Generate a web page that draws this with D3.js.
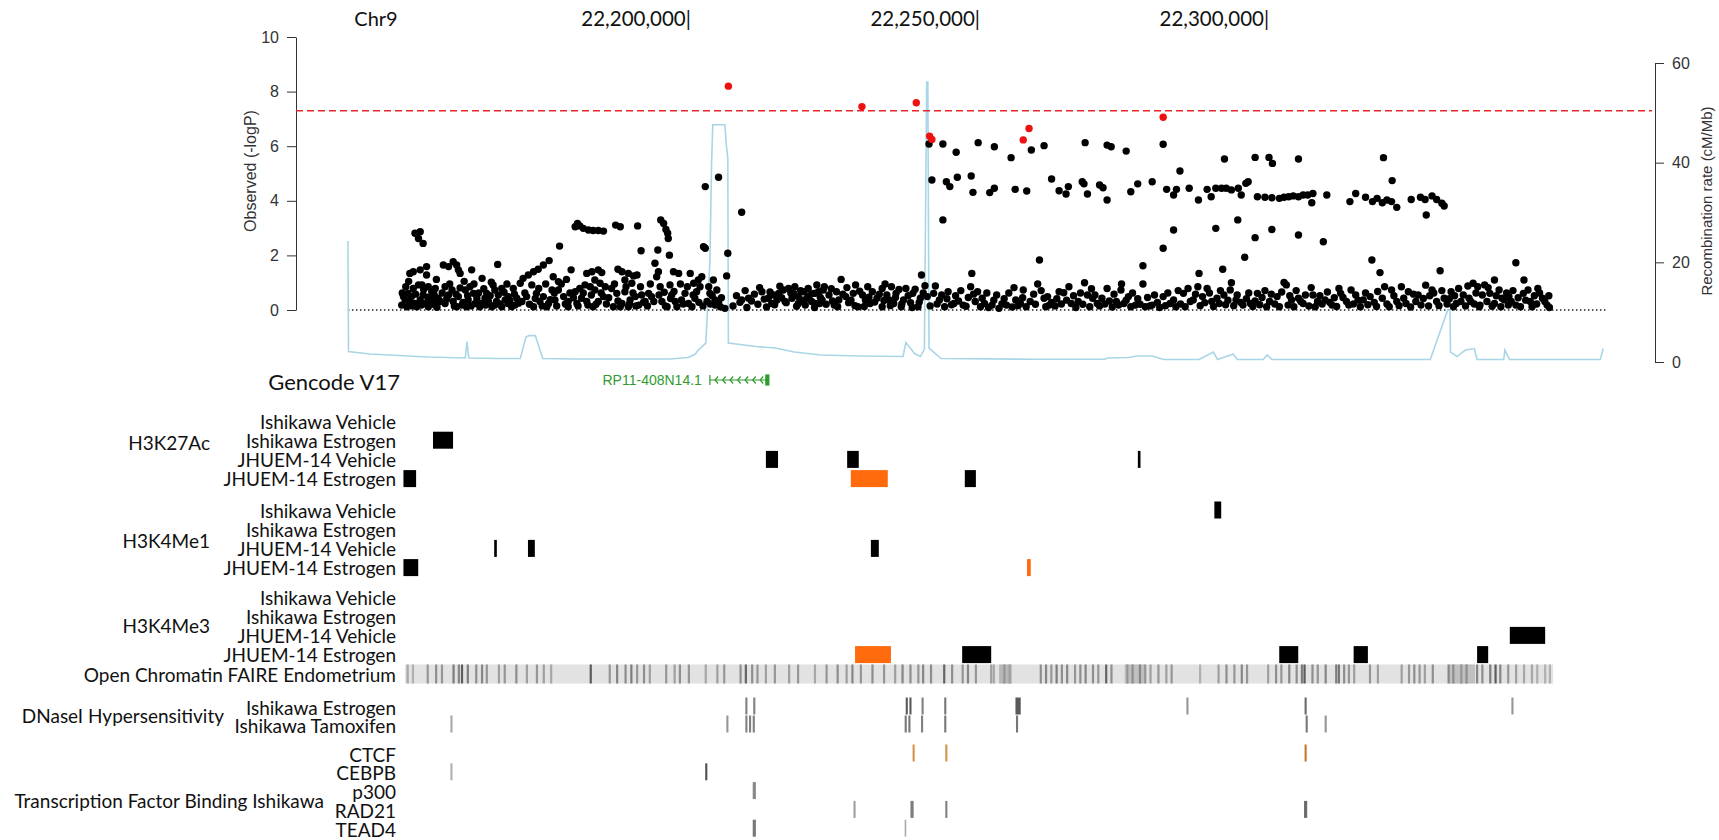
<!DOCTYPE html>
<html>
<head>
<meta charset="utf-8">
<script src="https://cdn.jsdelivr.net/npm/d3@7"></script>
<style>
   body { margin: 0; background: #fff; }
   svg { display: block; }
</style>
</head>
<body>
<div class="chart"></div>
<script>
// all positions are in kb after 22,000,000 bp on chr9
const BASE_BP = 22000000;
const REGION = [141.2, 358.8];
const TOP_TICKS = [200, 250, 300];

// association results: [position kb, -log10 p]
const snpBlack = [
   [152.8,2.81],[153.7,2.87],[153.4,2.62],[154.2,2.44],[151.9,1.34],[152.5,1.40],[153.7,1.47],[154.8,1.59],[154.8,1.28],[151.6,0.61],
   [152.5,0.79],[154.0,0.92],[155.1,0.85],[155.7,0.67],[156.3,0.79],[151.1,0.37],[151.9,0.31],[152.8,0.24],[153.7,0.37],[154.5,0.24],
   [155.4,0.31],[156.3,0.18],[156.8,0.43],[151.4,0.12],[153.1,0.12],[155.1,0.12],[156.6,0.10],[150.5,0.18],[150.8,0.49],[152.2,0.49],
   [154.2,0.55],[156.0,0.37],
   [157.7,1.65],[158.6,1.59],[159.4,1.77],[160.0,1.65],[160.3,1.47],[160.6,1.34],[162.6,1.47],[158.0,0.85],[159.2,0.73],[160.3,0.49],
   [161.5,0.73],[162.3,0.85],[162.9,0.61],[158.0,0.24],[159.4,0.31],[160.9,0.18],[162.0,0.37],[163.2,0.24],[158.6,0.55],[160.0,0.12],
   [161.7,0.12],[163.5,0.43],
   [164.4,1.16],[167.1,1.67],[165.2,0.61],[166.3,0.92],[166.6,0.73],[167.8,0.79],[168.9,0.49],[169.8,0.79],[171.0,0.98],[164.3,0.24],
   [165.5,0.31],[166.6,0.18],[167.8,0.12],[168.9,0.24],[170.1,0.18],[171.3,0.31],[164.9,0.43],[166.1,0.12],[168.4,0.37],[169.5,0.12],
   [167.2,0.55],[170.4,0.43],
   [171.5,1.16],[172.4,1.28],[173.3,1.40],[174.1,1.49],[175.0,1.65],[176.0,1.81],[173.0,0.92],[173.8,0.61],[175.0,0.49],[176.5,0.73],
   [172.1,0.49],[174.4,0.31],[175.9,0.24],[173.3,0.12],[177.8,2.34],[176.7,1.22],[177.6,1.04],[177.0,0.37],[175.6,0.12],
   [180.5,3.05],[180.9,3.17],[181.3,3.08],[181.9,2.99],[182.8,2.93],[183.6,2.91],[184.5,2.91],[185.4,2.89],[179.8,1.47],[182.5,1.34],
   [183.4,1.40],[184.5,1.47],[185.1,1.37],[183.9,1.10],[177.6,0.73],[178.5,0.49],[179.3,0.31],[180.5,0.67],[181.3,0.79],[182.2,0.92],
   [183.1,0.85],[183.9,0.73],[184.8,0.98],[185.7,0.85],[180.8,0.24],[182.5,0.31],[184.5,0.31],[179.3,0.12],[181.6,0.43],[183.6,0.12],
   [185.4,0.49],
   [187.5,3.11],[188.3,3.05],[191.3,3.08],[191.9,2.17],[194.8,2.20],[187.9,1.49],[188.6,1.40],[189.7,1.34],[190.6,1.25],[191.2,1.28],
   [189.1,1.10],[190.3,0.98],[186.8,0.79],[187.7,0.61],[189.1,0.67],[190.0,0.37],[190.9,0.49],[192.0,0.55],[193.2,0.61],[188.6,0.24],
   [191.5,0.18],[187.1,0.12],[189.7,0.12],[192.6,0.31],
   [195.3,3.30],[195.8,3.17],[196.2,2.95],[196.5,2.81],[196.6,2.62],[196.8,2.01],[194.3,1.71],[194.9,1.40],[194.6,1.22],[195.2,0.85],
   [196.9,0.92],[197.5,1.40],[198.4,1.34],[193.7,0.49],[195.5,0.31],[197.2,0.55],[197.8,0.31],[196.4,0.12],
   [200.4,1.34],[201.0,0.98],[201.8,1.10],[202.1,0.85],[202.4,1.22],[203.6,0.85],[204.4,1.10],[205.0,0.73],[203.0,4.52],[205.3,4.86],
   [202.7,2.32],[203.0,2.26],[203.8,0.61],[204.7,0.37],[201.2,0.43],[200.1,0.24],[198.9,0.37],[204.7,0.18],[205.6,0.12],[206.4,0.06],
   [199.5,0.61],[200.7,0.12],[201.5,0.67],[203.3,0.31],
   [150.6,0.62],[151.2,0.85],[151.7,1.05],[152.3,0.15],[152.9,0.58],[153.4,0.92],[153.9,0.18],[154.3,0.75],[155.0,0.47],[155.6,0.22],
   [156.1,0.56],[156.5,1.12],[157.2,0.31],[157.5,0.62],[158.3,0.41],[158.8,0.95],[159.6,0.15],[159.9,0.58],[160.6,0.81],[161.1,0.28],
   [161.3,1.05],[161.9,0.52],[162.5,0.15],[163.0,0.95],[163.8,0.62],[164.0,0.12],[164.7,0.78],[165.0,0.18],[165.8,0.52],[166.0,1.02],
   [166.9,0.31],[167.5,0.22],[168.2,0.65],[168.7,0.95],[169.2,0.35],[170.0,0.58],[170.7,0.25],[171.8,0.62],[172.6,0.21],[173.6,0.42],
   [174.2,0.79],[174.8,0.15],[175.4,0.95],[176.2,0.38],[176.9,0.62],[177.3,0.15],[178.1,0.95],[178.8,0.22],[179.0,1.12],[179.6,0.62],
   [180.2,0.45],[181.0,0.15],[181.9,0.62],[182.7,0.18],[183.3,0.55],[184.1,0.21],[185.0,0.62],[185.9,0.22],[186.3,0.45],[187.3,0.95],
   [187.9,0.33],[188.3,0.12],[189.3,0.85],[189.9,0.22],[190.5,0.62],[191.0,0.15],[191.8,0.85],[192.3,0.28],[193.0,0.15],[193.5,0.95],
   [194.1,0.31],[195.0,0.55],[195.9,0.65],[196.1,0.15],[197.0,0.42],[197.6,0.68],[198.1,0.12],[198.7,0.95],[199.2,0.22],[199.9,0.85],
   [200.9,0.55],[201.9,0.28],[202.6,0.15],[203.9,0.22],[204.2,0.52],[205.3,0.28],[205.8,0.45],
   [206.9,2.08],[206.7,1.25],[209.3,3.58],[209.3,0.37],[210.5,0.43],[212.8,0.67],[213.9,0.43],[214.8,0.55],[215.7,0.61],[216.5,0.73],
   [217.4,0.79],[218.3,0.61],[219.1,0.49],[220.0,0.67],[220.8,0.79],[221.7,0.61],[222.6,0.67],[223.4,0.73],[214.5,0.24],[216.8,0.31],
   [219.1,0.24],[221.4,0.31],[223.2,0.37],[215.4,0.37],[218.0,0.43],[220.6,0.43],[222.0,0.24],[218.5,0.85],[222.3,0.92],
   [207.8,0.15],[208.4,0.52],[209.0,0.28],[209.9,0.71],[210.2,0.09],[211.0,0.33],[211.5,0.58],[212.1,0.21],[212.4,0.82],[213.2,0.40],
   [213.6,0.11],[214.2,0.66],[215.0,0.19],[215.9,0.87],[216.2,0.45],[217.0,0.27],[217.8,0.62],[218.8,0.14],[219.5,0.71],[219.8,0.36],
   [220.3,0.18],[221.0,0.52],[221.9,0.09],[222.9,0.46],[223.9,0.21],[224.8,0.78],[225.0,0.33],[225.9,0.12],[226.8,0.58],[227.5,0.82],
   [228.2,0.36],[228.9,0.16],[229.7,0.69],[230.5,0.13],[231.3,0.47],[232.3,0.29],[233.1,0.58],[233.9,0.35],[234.1,0.95],[235.0,0.16],
   [235.9,0.46],[236.5,0.75],[237.0,0.22],[238.1,0.52],[238.8,0.09],[239.3,0.76],[240.0,0.28],[240.7,0.62],
   [226.5,1.12],[223.6,0.85],[229.0,0.92],[231.1,0.85],[233.6,0.79],[235.2,0.85],[237.7,0.79],[240.4,1.28],[241.0,0.89],[222.0,0.61],
   [224.4,0.55],[225.7,0.67],[227.3,0.49],[228.6,0.61],[230.2,0.55],[231.9,0.67],[232.7,0.43],[234.4,0.55],[236.0,0.61],[237.3,0.37],
   [238.9,0.61],[240.2,0.43],[222.8,0.24],[225.3,0.18],[227.8,0.27],[229.4,0.12],[231.5,0.24],[233.6,0.12],[235.6,0.24],[236.9,0.12],
   [238.5,0.27],[239.8,0.12],[226.1,0.37],[230.7,0.37],[234.8,0.37],
   [241.4,0.49],[242.5,0.61],[243.5,0.37],[245.0,0.67],[246.0,0.24],[247.6,0.18],[249.1,1.34],[248.9,0.85],[250.1,0.67],[249.7,0.31],
   [251.3,0.24],[252.6,0.18],[253.8,0.06],[255.1,0.18],[256.7,0.37],[258.0,0.73],[257.5,0.24],[259.2,0.31],[260.5,0.95],[260.8,1.83],
   [261.6,0.43],[262.5,0.18],
   [241.9,0.15],[242.8,0.88],[243.1,0.22],[243.9,0.55],[244.4,0.12],[244.8,0.41],[245.6,0.19],[246.3,0.52],[246.8,0.33],[247.2,0.71],
   [248.1,0.14],[248.5,0.46],[249.4,0.58],[250.6,0.12],[250.9,0.43],[251.7,0.62],[252.0,0.09],[252.9,0.36],[253.4,0.55],[254.3,0.22],
   [254.7,0.41],[255.5,0.62],[256.1,0.11],[256.4,0.82],[257.1,0.16],[257.9,0.45],[258.5,0.12],[259.8,0.58],[260.1,0.21],[261.1,0.71],
   [261.9,0.12],[262.2,0.49],[262.9,0.28],
   [264.2,0.67],[265.0,0.63],[266.3,0.24],[267.5,0.31],[268.6,1.00],[269.1,0.55],[270.0,0.43],[270.8,0.24],[272.5,0.79],[274.1,0.31],
   [274.9,0.73],[275.4,0.24],[276.2,0.49],[277.4,0.18],[278.7,0.95],[278.7,1.62],[279.1,0.12],[280.3,0.18],[282.2,0.49],[284.0,0.37],
   [282.2,2.26],[284.0,2.93],
   [263.5,0.15],[263.8,0.41],[264.6,0.22],[265.5,0.36],[265.9,0.85],[266.7,0.52],[267.1,0.09],[267.9,0.62],[268.3,0.21],[269.5,0.12],
   [269.8,0.78],[270.4,0.55],[271.2,0.15],[271.6,0.43],[272.1,0.22],[272.9,0.33],[273.4,0.11],[273.7,0.58],[274.5,0.18],[275.0,0.95],
   [275.8,0.36],[276.6,0.12],[276.9,0.62],[277.8,0.41],[278.2,0.21],[279.5,0.46],[279.9,0.15],[280.7,0.55],[281.2,0.28],[281.6,0.09],
   [282.6,0.16],[283.0,0.62],[283.4,0.24],[284.4,0.12],[284.8,0.71],
   [285.7,0.61],[286.5,0.79],[287.4,0.37],[288.2,0.85],[288.4,1.34],[289.0,0.49],[289.8,0.79],[290.6,0.31],[291.9,0.24],[292.5,1.49],
   [292.7,0.55],[294.0,1.00],[293.8,0.73],[294.8,0.37],[296.0,0.18],[296.3,1.93],[297.3,0.24],[298.5,0.61],[299.8,0.71],[300.6,0.31],
   [301.9,0.49],[303.1,1.01],[303.5,0.92],[304.4,0.37],[305.6,0.43],[306.4,0.24],
   [285.2,0.22],[286.0,0.12],[286.9,0.31],[287.8,0.58],[288.6,0.16],[289.4,0.27],[290.2,0.62],[290.9,0.13],[291.5,0.43],[292.1,0.71],
   [293.0,0.19],[293.4,0.36],[294.4,0.16],[295.0,0.55],[295.6,0.28],[296.6,0.41],[297.0,0.62],[297.7,0.13],[298.1,0.33],[298.9,0.19],
   [299.3,0.46],[300.1,0.12],[300.9,0.58],[301.5,0.22],[302.3,0.12],[302.7,0.66],[303.8,0.18],[304.1,0.52],[304.8,0.12],[305.2,0.71],
   [306.0,0.31],[306.8,0.55],
   [308.1,0.55],[308.9,0.31],[310.2,0.37],[311.4,0.18],[312.6,0.79],[312.9,0.61],[313.9,0.31],[315.5,0.55],[316.8,0.37],[318.3,1.83],
   [318.0,0.49],[319.7,1.37],[320.5,0.85],[320.1,0.43],[321.7,0.73],[322.6,0.31],[324.6,0.67],[325.9,0.31],[326.3,0.55],[328.7,0.73],
   [330.1,1.44],[329.5,0.31],[330.8,0.43],
   [307.4,0.15],[307.8,0.82],[308.5,0.12],[309.3,0.52],[309.7,0.22],[310.6,0.66],[311.0,0.28],[311.8,0.45],[312.2,0.13],[313.3,0.46],
   [314.3,0.18],[314.7,0.73],[315.1,0.22],[315.9,0.36],[316.3,0.12],[317.2,0.62],[317.6,0.19],[318.7,0.28],[319.1,0.13],[319.3,0.68],
   [320.9,0.22],[321.3,0.12],[322.1,0.52],[323.0,0.16],[323.4,0.85],[323.8,0.43],[324.2,0.24],[325.0,0.11],[325.5,0.58],[326.8,0.18],
   [327.2,0.42],[327.6,0.91],[328.1,0.15],[328.3,0.52],[329.0,0.62],[329.9,0.16],[330.4,0.71],
   [332.0,0.67],[333.3,0.79],[334.1,0.55],[335.8,0.98],[336.6,0.85],[337.8,0.92],[338.7,0.61],[339.5,1.10],[340.3,0.73],[341.2,0.37],
   [343.2,1.73],[344.6,1.10],[344.5,0.61],[345.7,0.31],[347.0,0.79],[347.8,0.43],[348.6,0.18],[332.9,0.24],[335.4,0.31],[337.0,0.18],
   [339.5,0.24],[342.0,0.49],[343.2,0.18],
   [331.3,0.22],[331.7,0.41],[332.4,0.12],[332.6,0.52],[333.7,0.31],[334.5,0.15],[334.9,0.88],[335.1,0.43],[336.0,0.22],[336.3,0.62],
   [336.9,0.12],[337.4,0.55],[338.2,0.31],[338.4,0.82],[339.1,0.14],[339.8,0.52],[340.6,0.12],[340.8,0.43],[341.6,0.62],[341.9,0.18],
   [342.4,0.31],[342.7,0.71],[343.6,0.45],[344.0,0.12],[344.9,0.36],[345.3,0.73],[346.0,0.12],[346.4,0.52],[346.8,0.22],[347.3,0.62],
   [348.2,0.31],[348.9,0.52],[349.0,0.09],
   [241.7,6.08],[244.1,6.08],[246.4,5.78],[250.2,6.13],[253.0,5.98],[255.9,5.58],[259.4,5.86],[261.6,6.02],[268.7,6.13],[272.5,6.04],
   [273.2,5.98],[275.8,5.82],[282.2,6.07],[292.8,5.53],[298.1,5.59],[300.5,5.59],[301.1,5.37],[305.6,5.53],[320.3,5.58],[285.1,5.09],
   [321.8,4.74],
   [242.2,4.76],[244.7,4.70],[245.3,4.52],[246.6,4.86],[249.0,4.91],[249.3,4.31],[252.2,4.30],[253.0,4.46],[256.6,4.42],[258.6,4.36],
   [262.9,4.80],[264.2,4.37],[265.4,4.25],[265.8,4.52],[268.2,4.70],[268.5,4.62],[269.1,4.25],[271.2,4.58],[271.8,4.48],[272.5,4.03],
   [276.6,4.33],[277.8,4.62],[280.3,4.70],[282.8,4.42],[284.0,4.21],[284.5,4.42],[286.7,4.46],[288.3,4.03],[289.8,4.42],[290.5,4.15],
   [291.3,4.46],[292.3,4.46],[293.1,4.46],[294.0,4.40],[295.2,4.46],[295.7,4.21],[296.5,4.64],[296.9,4.70],[298.5,4.15],[299.8,4.13],
   [301.0,4.11],[302.3,4.09],[303.1,4.13],[303.9,4.15],[304.7,4.18],[305.6,4.15],[306.4,4.21],[307.2,4.21],[308.1,4.27],[307.9,3.93],
   [310.5,4.21],[314.5,3.97],[315.5,4.27],[317.2,4.13],[318.4,3.97],[319.2,4.09],[320.1,3.93],[320.9,4.03],[321.7,3.97],[322.6,3.76],
   [325.1,4.05],[326.7,4.13],[327.5,4.05],[328.7,4.18],[329.5,4.05],[330.4,3.91],[330.8,3.81],[327.7,3.48],
   [244.1,3.30],[291.3,2.99],[295.1,3.30],[298.1,2.65],[301.0,2.95],[305.6,2.75],[309.9,2.50]
];

// genome-wide significant hits
const snpRed = [[207.0,8.2],[230.1,7.45],[239.5,7.59],[241.8,6.37],[242.2,6.25],[258.0,6.23],[259.0,6.65],[282.2,7.06]];
const SIG_LEVEL = 7.3;

// recombination rate (cM/Mb)
const recombRate = [
   [141.2,24.3],[141.3,2.1],[145,1.6],[150,1.3],[155,1.0],[161.5,0.8],[161.8,4.1],[162.1,0.8],[167,0.7],[171.0,0.7],
   [172.0,5.0],[172.5,5.3],[173.6,5.3],[174.9,0.7],[180,0.6],[190,0.6],[197,0.6],[200,0.9],[201.2,1.5],[201.8,2.4],
   [203.1,3.8],[203.8,20],[204.1,40],[204.3,47.6],[206.4,47.6],[206.6,44],[206.9,41],[207.0,3.8],[211.8,3.1],[215.1,2.8],
   [218.4,2.0],[222.9,1.4],[230,1.2],[237.2,1.1],[237.7,3.9],[239.2,1.7],[240.2,1.1],[240.9,2.6],[241.3,56.2],[241.5,56.2],
   [241.7,2.8],[243.8,0.7],[260,0.55],[272.1,0.55],[272.6,0.8],[276.2,0.9],[277.7,1.2],[280.3,1.2],[282.3,0.5],[288.4,0.5],
   [290.9,2.0],[291.6,0.5],[294.3,1.6],[295.0,0.5],[299.5,0.5],[300.2,1.4],[301.0,0.5],[328.4,0.5],[331.4,10.4],[331.8,10.4],
   [331.9,2.0],[333.0,1.1],[334.5,2.4],[336.0,2.7],[336.5,0.5],[341.1,0.5],[341.3,2.4],[342.1,0.5],[357.8,0.5],[358.3,2.7]
];

// gencode gene
const geneNames = ["RP11-408N14.1"];
const geneStarts = [203.8];
const geneEnds = [214.0];

// histone marks: [row, start, end, gained with estrogen]
const histoneGroups = ["H3K27Ac", "H3K4Me1", "H3K4Me3"];
const histoneRows = ["Ishikawa Vehicle", "Ishikawa Estrogen", "JHUEM-14 Vehicle", "JHUEM-14 Estrogen"];
const h3k27acPeaks = [[1,146.5,150.3,0],[2,209.6,211.9,0],[2,225.0,227.2,0],[2,280.1,280.6,0],[3,140.9,143.3,0],[3,225.7,232.7,1],[3,247.3,249.4,0]];
const h3k4me1Peaks = [[0,294.6,295.9,0],[2,158.1,158.6,0],[2,164.5,165.8,0],[2,229.5,231.0,0],[3,140.9,143.7,0],[3,259.1,259.8,1]];
const h3k4me3Peaks = [[2,350.6,357.3,0],[3,226.5,233.3,1],[3,246.8,252.3,0],[3,306.9,310.5,0],[3,321.0,323.7,0],[3,344.4,346.5,0]];

// FAIRE open chromatin signal: [position, score]
const faireSignal = [
   [141.7,350],[142.7,300],[145.5,450],[147.1,500],[148.2,450],[150.4,600],[151.4,550],[152.0,800],[153.1,600],[154.7,500],
   [155.8,550],[156.7,450],[159.0,400],[160.1,450],[162.3,500],[164.3,400],[166.2,450],[167.5,400],[168.9,350],[176.4,800],
   [180.0,450],[181.4,550],[183.0,500],[184.1,600],[185.2,450],[186.5,500],[187.6,400],[190.7,450],[192.3,400],[193.3,500],
   [195.0,450],[198.2,350],[200.4,400],[201.7,450],[204.8,500],[205.8,750],[207.0,500],[208.0,450],[209.6,400],[211.3,450],
   [214.0,400],[215.7,450],[218.9,350],[221.1,450],[223.2,500],[224.9,400],[226.0,550],[227.6,450],[229.8,500],[232.0,450],
   [234.1,400],[235.5,550],[237.0,500],[238.5,450],[239.4,550],[240.9,500],[243.4,750],[244.9,500],[246.9,450],[247.9,550],
   [249.4,450],[252.3,400],[252.8,350],[254.8,450],[255.8,400],[261.7,500],[262.7,550],[263.7,450],[264.7,600],[265.7,500],
   [266.7,550],[268.2,450],[269.2,500],[270.2,550],[271.6,500],[272.6,450],[274.1,750],[275.1,500],[278.1,450],[279.1,500],
   [280.5,550],[281.5,450],[282.5,400],[284.0,450],[285.5,400],[286.5,450],[291.9,300],[295.4,400],[296.9,500],[298.4,450],
   [299.8,550],[300.8,450],[304.8,400],[306.3,500],[307.3,450],[308.8,550],[310.2,500],[311.2,600],[311.7,800],[313.2,500],
   [314.2,450],[315.7,550],[317.7,600],[318.2,650],[319.2,500],[320.1,450],[321.1,400],[324.1,450],[325.6,400],[330.1,400],
   [331.5,450],[332.5,500],[333.5,450],[334.5,400],[336.0,500],[339.0,550],[339.9,500],[341.4,450],[342.4,500],[344.4,550],
   [345.4,500],[346.9,600],[347.9,800],[348.8,550],[350.3,450],[351.8,400],[353.3,350],[354.8,350],[355.8,300],[357.3,300],
   [358.2,300]
];
const faireBroad = [[253.8,256.2,250],[277.6,281.5,200],[339.1,344.0,200]];

// DNaseI hypersensitive sites: [start, end, score]
const dnaseRows = ["Ishikawa Estrogen", "Ishikawa Tamoxifen"];
const dnaseEstrogen = [[205.7,206.1,520],[207.2,207.6,520],[236.1,236.5,700],[236.8,237.2,700],[239.1,239.5,520],[243.4,243.8,560],[256.9,257.9,700],[289.3,289.7,420],[311.7,312.1,620],[350.9,351.3,420]];
const dnaseTamoxifen = [[149.8,150.2,330],[202.1,202.5,420],[205.7,206.1,520],[206.4,206.8,520],[207.1,207.5,520],[235.9,236.3,560],[236.6,237.0,560],[239.0,239.4,520],[243.4,243.8,560],[257.0,257.4,560],[311.9,312.3,560],[315.5,315.9,420]];

// transcription factor binding in Ishikawa: [start, end, score]
const tfNames = ["CTCF", "CEBPB", "p300", "RAD21", "TEAD4"];
const tfCTCF = [[237.4,237.8,600],[243.6,244.0,600],[311.7,312.1,800]];
const tfCEBPB = [[149.8,150.2,300],[198.1,198.5,750]];
const tfP300 = [[207.1,207.7,480]];
const tfRAD21 = [[226.2,226.6,380],[237.0,237.6,540],[243.6,244.0,520],[311.6,312.2,620]];
const tfTEAD4 = [[207.1,207.7,560],[235.9,236.2,330]];

// setup chart
const width = 1719;
const height = 840;
const svg = d3.select(".chart").append("svg").attr("width", width).attr("height", height);

const LABEL_FONT = "Lato, 'Open Sans', sans-serif";
const AXIS_FONT = "'Liberation Sans', Arial, sans-serif";
const TRACK_FONT = 19;

// scales for the association plot and for the browser tracks
const xPlot = d3.scaleLinear().domain([140, 360]).range([341, 1613]);
const yP = d3.scaleLinear().domain([0, 10]).range([310, 37]);
const yR = d3.scaleLinear().domain([0, 60]).range([362, 63]);
const xTrack = d3.scaleLinear().domain([140, 360]).range([398.7, 1559.4]);

const label = (x, y, txt, size, anchor) =>
   svg
      .append("text")
      .attr("x", x)
      .attr("y", y)
      .attr("dominant-baseline", "central")
      .attr("text-anchor", anchor || "end")
      .attr("font-family", LABEL_FONT)
      .attr("font-size", size)
      .attr("fill", "#111")
      .text(txt);

// header
label(376, 18, "Chr9", 20, "middle");
TOP_TICKS.forEach((kb) => label(xPlot(kb) + 3, 18, d3.format(",")(BASE_BP + kb * 1000) + "|", 20.5));

// axes
const leftAxis = svg
   .append("g")
   .attr("transform", "translate(296,0)")
   .call(d3.axisLeft(yP).tickValues([0, 2, 4, 6, 8, 10]).tickSize(9).tickSizeOuter(0).tickPadding(8));
const rightAxis = svg
   .append("g")
   .attr("transform", "translate(1655,0)")
   .call(d3.axisRight(yR).tickValues([0, 20, 40, 60]).tickSize(9).tickSizeOuter(0).tickPadding(8));
[leftAxis, rightAxis].forEach((g) => {
   g.attr("font-family", AXIS_FONT).attr("font-size", 16);
   g.selectAll("path, line").attr("stroke", "#333");
   g.selectAll("text").attr("fill", "#333");
});

svg
   .append("text")
   .attr("transform", "translate(250,171) rotate(-90)")
   .attr("text-anchor", "middle")
   .attr("dominant-baseline", "central")
   .attr("font-family", AXIS_FONT)
   .attr("font-size", 16)
   .attr("fill", "#333")
   .text("Observed (-logP)");
svg
   .append("text")
   .attr("transform", "translate(1706,201) rotate(-90)")
   .attr("text-anchor", "middle")
   .attr("dominant-baseline", "central")
   .attr("font-family", AXIS_FONT)
   .attr("font-size", 15)
   .attr("fill", "#333")
   .text("Recombination rate (cM/Mb)");

// baseline
svg
   .append("line")
   .attr("x1", xPlot(REGION[0]))
   .attr("x2", xPlot(REGION[1]))
   .attr("y1", yP(0))
   .attr("y2", yP(0))
   .attr("stroke", "#222")
   .attr("stroke-width", 1.3)
   .attr("stroke-dasharray", "1.5,2.5");

// recombination rate
svg
   .append("path")
   .datum(recombRate)
   .attr("fill", "none")
   .attr("stroke", "#a9d6e6")
   .attr("stroke-width", 1.6)
   .attr("d", d3.line().x((d) => xPlot(d[0])).y((d) => yR(d[1])));

// significance threshold
svg
   .append("line")
   .attr("x1", 296)
   .attr("x2", 1652)
   .attr("y1", yP(SIG_LEVEL))
   .attr("y2", yP(SIG_LEVEL))
   .attr("stroke", "#e8262a")
   .attr("stroke-width", 1.5)
   .attr("stroke-dasharray", "7,4");

// snps
svg
   .append("g")
   .selectAll("circle")
   .data(snpBlack)
   .enter()
   .append("circle")
   .attr("cx", (d) => xPlot(d[0]))
   .attr("cy", (d) => yP(d[1]))
   .attr("r", 3.7)
   .attr("fill", "#000");
svg
   .append("g")
   .selectAll("circle")
   .data(snpRed)
   .enter()
   .append("circle")
   .attr("cx", (d) => xPlot(d[0]))
   .attr("cy", (d) => yP(d[1]))
   .attr("r", 3.7)
   .attr("fill", "#ee1111");

// gencode
label(400, 381, "Gencode V17", 22);
const GENE_Y = 380;
const GENE_GREEN = "#2f9b2f";
geneNames.forEach((name, i) => {
   const x0 = xPlot(geneStarts[i]);
   const x1 = xPlot(geneEnds[i]);
   const g = svg.append("g").attr("stroke", GENE_GREEN).attr("fill", "none").attr("stroke-width", 1.2);
   g.append("line").attr("x1", x0).attr("x2", x1).attr("y1", GENE_Y).attr("y2", GENE_Y);
   g.append("line").attr("x1", x0).attr("x2", x0).attr("y1", GENE_Y - 5).attr("y2", GENE_Y + 5);
   g.append("rect")
      .attr("x", x1 - 3)
      .attr("y", GENE_Y - 5)
      .attr("width", 3)
      .attr("height", 10)
      .attr("fill", GENE_GREEN);
   d3.range(geneStarts[i] + 0.9, geneEnds[i] - 0.8, 1.3).forEach((kb) => {
      const x = xPlot(kb);
      g.append("path").attr("d", `M${x + 3},${GENE_Y - 3.5}L${x},${GENE_Y}L${x + 3},${GENE_Y + 3.5}`);
   });
   svg
      .append("text")
      .attr("x", x0 - 8)
      .attr("y", GENE_Y)
      .attr("dominant-baseline", "central")
      .attr("text-anchor", "end")
      .attr("font-family", AXIS_FONT)
      .attr("font-size", 14)
      .attr("fill", GENE_GREEN)
      .text(name);
});

// histone tracks
const ROW_STEP = 19.2;
const BAR_H = 17;
const histoneTop = [421, 510, 597];
const histoneLabelY = [442, 540, 625];
const groupLabelRight = 210;
const rowLabelRight = 396;
[h3k27acPeaks, h3k4me1Peaks, h3k4me3Peaks].forEach((peaks, gi) => {
   label(groupLabelRight, histoneLabelY[gi], histoneGroups[gi], TRACK_FONT);
   histoneRows.forEach((row, ri) => label(rowLabelRight, histoneTop[gi] + ri * ROW_STEP, row, TRACK_FONT));
   svg
      .append("g")
      .selectAll("rect")
      .data(peaks)
      .enter()
      .append("rect")
      .attr("x", (d) => xTrack(d[1]))
      .attr("width", (d) => Math.max(xTrack(d[2]) - xTrack(d[1]), 2.5))
      .attr("y", (d) => histoneTop[gi] + d[0] * ROW_STEP - BAR_H / 2)
      .attr("height", BAR_H)
      .attr("fill", (d) => (d[3] ? "#ff6a0c" : "#000"));
});

// FAIRE open chromatin
const FAIRE_Y = 674;
const greyShade = d3.scaleLinear().domain([0, 1000]).range(["#e2e2e2", "#3a3a3a"]);
label(rowLabelRight, FAIRE_Y, "Open Chromatin FAIRE Endometrium", TRACK_FONT);
svg
   .append("rect")
   .attr("x", xTrack(REGION[0]))
   .attr("width", xTrack(REGION[1]) - xTrack(REGION[0]))
   .attr("y", FAIRE_Y - 9.5)
   .attr("height", 19)
   .attr("fill", "#e2e2e2");
svg
   .append("g")
   .selectAll("rect")
   .data(faireBroad)
   .enter()
   .append("rect")
   .attr("x", (d) => xTrack(d[0]))
   .attr("width", (d) => xTrack(d[1]) - xTrack(d[0]))
   .attr("y", FAIRE_Y - 9.5)
   .attr("height", 19)
   .attr("fill", (d) => greyShade(d[2]));
svg
   .append("g")
   .selectAll("rect")
   .data(faireSignal)
   .enter()
   .append("rect")
   .attr("x", (d) => xTrack(d[0]) - 1.1)
   .attr("width", 2.2)
   .attr("y", FAIRE_Y - 9.5)
   .attr("height", 19)
   .attr("fill", (d) => greyShade(d[1]));

// interval tracks (dnase, tf binding)
const siteShade = d3.scaleLinear().domain([0, 1000]).range(["#f0f0f0", "#1a1a1a"]);
const ctcfShade = d3.scaleLinear().domain([0, 1000]).range(["#fbe6c0", "#b85c00"]);
const drawSites = (sites, cy, color) =>
   svg
      .append("g")
      .selectAll("rect")
      .data(sites)
      .enter()
      .append("rect")
      .attr("x", (d) => xTrack(d[0]))
      .attr("width", (d) => Math.max(xTrack(d[1]) - xTrack(d[0]), 1.5))
      .attr("y", cy - BAR_H / 2)
      .attr("height", BAR_H)
      .attr("fill", (d) => color(d[2]));

const DNASE_Y = [706, 724];
label(224, 715, "DNaseI Hypersensitivity", TRACK_FONT);
dnaseRows.forEach((row, i) => label(rowLabelRight, DNASE_Y[i] + 1, row, TRACK_FONT));
drawSites(dnaseEstrogen, DNASE_Y[0], siteShade);
drawSites(dnaseTamoxifen, DNASE_Y[1], siteShade);

const TF_TOP = 753;
const TF_STEP = 18.8;
label(324, 800, "Transcription Factor Binding Ishikawa", TRACK_FONT);
[tfCTCF, tfCEBPB, tfP300, tfRAD21, tfTEAD4].forEach((sites, i) => {
   label(rowLabelRight, TF_TOP + i * TF_STEP + 1, tfNames[i], TRACK_FONT);
   drawSites(sites, TF_TOP + i * TF_STEP, i === 0 ? ctcfShade : siteShade);
});
</script>
</body>
</html>
